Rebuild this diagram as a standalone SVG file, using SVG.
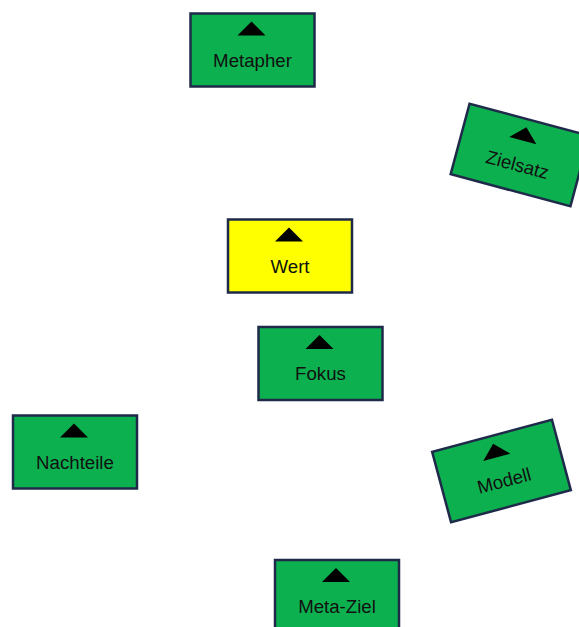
<svg xmlns="http://www.w3.org/2000/svg" width="579" height="627" viewBox="0 0 579 627">
<style>
.box{fill:#0db04f;stroke:#1f2a4a;stroke-width:2.5}
.yel{fill:#ffff00;stroke:#1f2a4a;stroke-width:2.5}
.tri{fill:#000000}
.lbl{font-family:"Liberation Sans",Arial,sans-serif;font-size:18.67px;fill:#111111;text-anchor:middle}
</style>
<defs>
<g id="inner">
<polygon class="tri" points="-1,-28.5 -15,-14.5 13,-14.5"/>
</g>
</defs>
<g id="connectors"/>
<g id="metapher" transform="translate(252.5,50)">
<rect class="box" x="-62" y="-36.5" width="124" height="73"/>
<use href="#inner"/>
<text class="lbl" x="0" y="16.5">Metapher</text>
</g>
<g id="zielsatz" transform="translate(520,155) rotate(15)">
<rect class="box" x="-62" y="-36.5" width="124" height="73"/>
<use href="#inner"/>
<text class="lbl" x="0" y="16.5">Zielsatz</text>
</g>
<g id="wert" transform="translate(290,256)">
<rect class="yel" x="-62" y="-36.5" width="124" height="73"/>
<use href="#inner"/>
<text class="lbl" x="0" y="16.5">Wert</text>
</g>
<g id="fokus" transform="translate(320.5,363.5)">
<rect class="box" x="-62" y="-36.5" width="124" height="73"/>
<use href="#inner"/>
<text class="lbl" x="0" y="16.5">Fokus</text>
</g>
<g id="nachteile" transform="translate(75,452)">
<rect class="box" x="-62" y="-36.5" width="124" height="73"/>
<use href="#inner"/>
<text class="lbl" x="0" y="16.5">Nachteile</text>
</g>
<g id="modell" transform="translate(501.5,471) rotate(-15)">
<rect class="box" x="-62" y="-36.5" width="124" height="73"/>
<use href="#inner"/>
<text class="lbl" x="0" y="16.5">Modell</text>
</g>
<g id="meta-ziel" transform="translate(337,596.5)">
<rect class="box" x="-62" y="-36.5" width="124" height="73"/>
<use href="#inner"/>
<text class="lbl" x="0" y="16.5">Meta-Ziel</text>
</g>
</svg>
